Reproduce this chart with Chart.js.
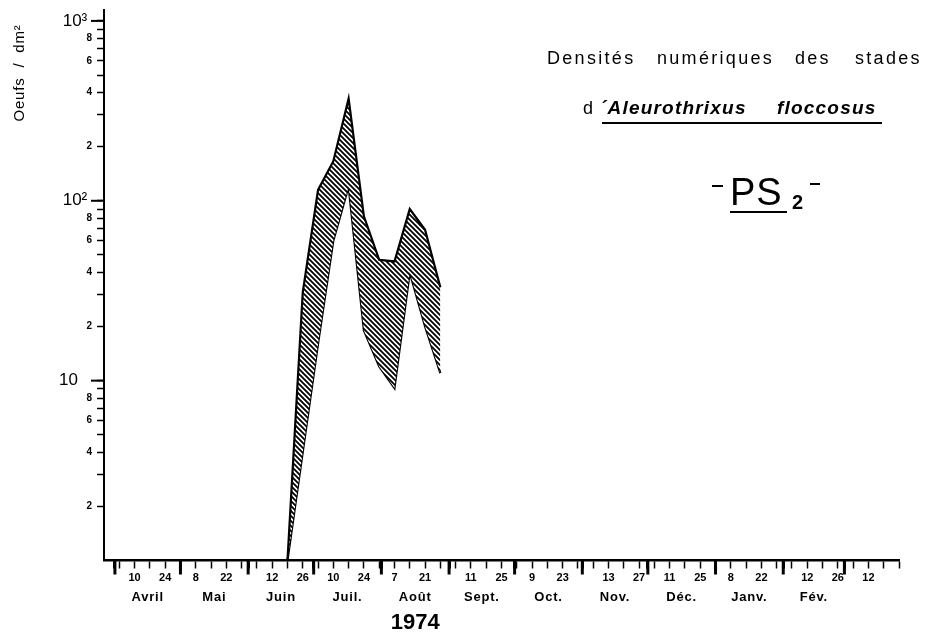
<!DOCTYPE html>
<html>
<head>
<meta charset="utf-8">
<script src="https://cdn.jsdelivr.net/npm/chart.js@4.4.0/dist/chart.umd.min.js"></script>
<style>
  body { margin: 0; background: #fff; }
  #wrap { width: 934px; height: 637px; position: relative; }
</style>
</head>
<body>
<div id="wrap"><canvas id="myChart"></canvas></div>
<script>
// sampling dates, in days since 1 April 1974 (one sample a week)
var sampleDays = [79, 86, 93, 100, 107, 114, 121, 128, 135, 142, 149];
// egg density band, upper and lower limit (oeufs / dm2)
var upperDensity = [1, 31, 115, 166, 370, 82, 47, 46, 90, 69, 33];
var lowerDensity = [1, 4, 16, 60, 120, 19, 12, 9.1, 40, 20, 11];

// x axis: first day of each month, in days since 1 April 1974
var monthStarts = [0, 30, 61, 91, 122, 153, 183, 214, 244, 275, 306, 334];
var monthNames = ["Avril", "Mai", "Juin", "Juil.", "Août", "Sept.", "Oct.", "Nov.", "Déc.", "Janv.", "Fév."];
// labelled dates under the axis
var dateTickDays = [9, 23, 37, 51, 72, 86, 100, 114, 128, 142, 163, 177, 191, 205, 226, 240, 254, 268, 282, 296, 317, 331, 345];
var dateTickLabels = ["10", "24", "8", "22", "12", "26", "10", "24", "7", "21", "11", "25", "9", "23", "13", "27", "11", "25", "8", "22", "12", "26", "12"];

// y axis (log scale)
var yTickValues = [2, 3, 4, 5, 6, 7, 8, 9, 10, 20, 30, 40, 50, 60, 70, 80, 90, 100, 200, 300, 400, 500, 600, 700, 800, 900, 1000];
var yTickLabels = ["2", "", "4", "", "6", "", "8", "", "10   ", "2", "", "4", "", "6", "", "8", "", "10\u00B2 ", "2", "", "4", "", "6", "", "8", "", "10\u00B3 "];
var decades = [10, 100, 1000];

var FONT = "'Liberation Sans', Arial, Helvetica, sans-serif";

// weekly ticks (every Wednesday) + month boundaries
var xTickValues = [];
for (var d = 2; d <= 359; d += 7) xTickValues.push(d);
monthStarts.forEach(function (m) { if (xTickValues.indexOf(m) < 0) xTickValues.push(m); });
xTickValues.sort(function (a, b) { return a - b; });

var ctx = document.getElementById('myChart').getContext('2d');

// diagonal hatching for the band
function makeHatch() {
    var c = document.createElement('canvas');
    c.width = 5; c.height = 5;
    var g = c.getContext('2d');
    g.fillStyle = '#fff';
    g.fillRect(0, 0, 5, 5);
    g.strokeStyle = '#000';
    g.lineWidth = 1.8;
    g.beginPath();
    g.moveTo(-1, -1); g.lineTo(6, 6);
    g.moveTo(-1, 4); g.lineTo(1, 6);
    g.moveTo(4, -1); g.lineTo(6, 1);
    g.stroke();
    return ctx.createPattern(c, 'repeat');
}

function toPoints(values) {
    return sampleDays.map(function (d, i) { return { x: d, y: values[i] }; });
}

// extra marks: long ticks, month names, year, titles
var decorPlugin = {
    id: 'decor',
    afterDraw: function (chart) {
        var c = chart.ctx;
        var xs = chart.scales.x, ys = chart.scales.y;
        var area = chart.chartArea;
        c.save();
        c.strokeStyle = '#000';
        c.fillStyle = '#000';

        // month boundaries: long thick ticks
        c.lineWidth = 3;
        monthStarts.forEach(function (m) {
            var px = xs.getPixelForValue(m);
            c.beginPath();
            c.moveTo(px, area.bottom);
            c.lineTo(px, area.bottom + 14);
            c.stroke();
        });

        // decades: long ticks
        c.lineWidth = 2;
        decades.forEach(function (v) {
            var py = ys.getPixelForValue(v);
            c.beginPath();
            c.moveTo(area.left - 13, py);
            c.lineTo(area.left, py);
            c.stroke();
        });

        // month names
        c.font = 'bold 13px ' + FONT;
        c.letterSpacing = '0.8px';
        c.textAlign = 'center';
        c.textBaseline = 'middle';
        monthNames.forEach(function (name, i) {
            var mid = (monthStarts[i] + monthStarts[i + 1]) / 2;
            c.fillText(name, xs.getPixelForValue(mid), 597);
        });

        // year
        c.letterSpacing = '0px';
        c.font = 'bold 22px ' + FONT;
        c.fillText('1974', xs.getPixelForValue((monthStarts[4] + monthStarts[5]) / 2), 623);

        // y axis title
        c.save();
        c.translate(20, 73);
        c.rotate(-Math.PI / 2);
        c.font = '15px ' + FONT;
        c.letterSpacing = '0.8px';
        c.fillText('Oeufs  /  dm\u00B2', 0, 0);
        c.restore();

        // title block
        c.textAlign = 'left';
        c.textBaseline = 'alphabetic';
        c.font = '18px ' + FONT;
        c.letterSpacing = '2.3px';
        c.fillText('Densités', 547, 64);
        c.fillText('numériques', 657, 64);
        c.fillText('des', 795, 64);
        c.fillText('stades', 855, 64);

        c.letterSpacing = '1px';
        c.font = '18px ' + FONT;
        c.fillText('d', 583, 114);
        c.letterSpacing = '1.2px';
        c.font = 'italic bold 19px ' + FONT;
        c.fillText('\u00B4Aleurothrixus', 600, 114);
        c.fillText('floccosus', 777, 114);
        c.lineWidth = 2;
        c.beginPath();
        c.moveTo(602, 123); c.lineTo(882, 123);
        c.stroke();

        c.letterSpacing = '1px';
        c.font = '38px ' + FONT;
        c.fillText('PS', 730, 205);
        c.letterSpacing = '0px';
        c.font = 'bold 20px ' + FONT;
        c.fillText('2', 792, 209);
        c.lineWidth = 2;
        c.beginPath();
        c.moveTo(712, 186); c.lineTo(723, 186);
        c.moveTo(810, 184); c.lineTo(820, 184);
        c.moveTo(730, 212); c.lineTo(787, 212);
        c.stroke();

        c.restore();
    }
};

var myChart = new Chart(ctx, {
    type: 'line',
    data: {
        datasets: [{
            label: 'max',
            data: toPoints(upperDensity),
            borderColor: '#000',
            borderWidth: 2.2,
            pointRadius: 0,
            tension: 0,
            fill: '+1',
            backgroundColor: makeHatch()
        }, {
            label: 'min',
            data: toPoints(lowerDensity),
            borderColor: '#000',
            borderWidth: 2.2,
            pointRadius: 0,
            tension: 0,
            fill: false
        }]
    },
    options: {
        responsive: true,
        maintainAspectRatio: false,
        animation: false,
        layout: { padding: { top: 10, right: 35, left: 0, bottom: 0 } },
        plugins: {
            legend: { display: false },
            tooltip: { enabled: false }
        },
        scales: {
            x: {
                type: 'linear',
                min: -5,
                max: 359,
                afterBuildTicks: function (scale) {
                    scale.ticks = xTickValues.map(function (v) { return { value: v }; });
                },
                afterFit: function (scale) {
                    scale.height = 76.5;
                    scale.paddingLeft = 0;
                    scale.paddingRight = 0;
                },
                grid: {
                    drawOnChartArea: false,
                    tickLength: 8,
                    color: '#000',
                    tickWidth: function (context) {
                        return monthStarts.indexOf(context.tick && context.tick.value) >= 0 ? 3 : 1.5;
                    }
                },
                border: { color: '#000', width: 2.5 },
                ticks: {
                    autoSkip: false,
                    maxRotation: 0,
                    padding: 3,
                    color: '#000',
                    font: { family: FONT, size: 11, weight: 'bold' },
                    callback: function (value) {
                        var i = dateTickDays.indexOf(value);
                        return i >= 0 ? dateTickLabels[i] : '';
                    }
                }
            },
            y: {
                type: 'logarithmic',
                min: 1,
                max: 1150,
                afterBuildTicks: function (scale) {
                    scale.ticks = yTickValues.map(function (v) { return { value: v }; });
                },
                afterFit: function (scale) {
                    scale.width = 104;
                    scale.paddingTop = 0;
                    scale.paddingBottom = 0;
                },
                grid: {
                    drawOnChartArea: false,
                    tickLength: 7,
                    color: '#000',
                    tickWidth: 1.5
                },
                border: { color: '#000', width: 2 },
                ticks: {
                    autoSkip: false,
                    padding: 5,
                    color: '#000',
                    font: function (context) {
                        var v = context.tick && context.tick.value;
                        if (decades.indexOf(v) >= 0) return { family: FONT, size: 17, weight: 'normal' };
                        return { family: FONT, size: 10, weight: 'bold' };
                    },
                    callback: function (value) {
                        var i = yTickValues.indexOf(value);
                        return i >= 0 ? yTickLabels[i] : '';
                    }
                }
            }
        }
    },
    plugins: [decorPlugin]
});
</script>
</body>
</html>
